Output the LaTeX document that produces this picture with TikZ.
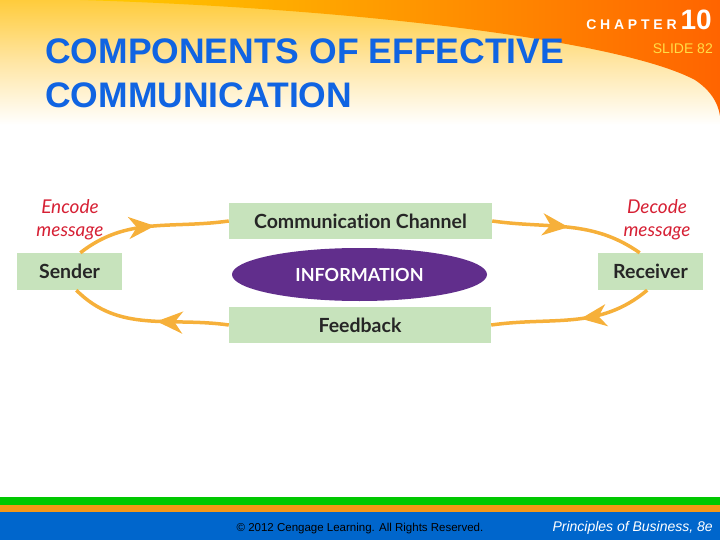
\documentclass[tikz,border=0pt]{standalone}
\usepackage{fontspec}
\setmainfont{Liberation Sans}
\newfontfamily\diagfont[Ligatures={NoCommon,NoRare}]{Lato}
\usetikzlibrary{arrows.meta,shapes.geometric,decorations.markings}

\definecolor{titleblue}{RGB}{16,100,226}
\definecolor{headtop}{RGB}{255,204,60}
\definecolor{headmid}{RGB}{255,230,165}
\definecolor{swooshyellow}{RGB}{255,204,0}
\definecolor{swooshorange}{RGB}{255,100,0}
\definecolor{slideyellow}{RGB}{255,222,70}
\definecolor{boxgreen}{RGB}{199,227,188}
\definecolor{infopurple}{RGB}{97,46,140}
\definecolor{flowgold}{RGB}{246,176,58}
\definecolor{codered}{RGB}{214,32,52}
\definecolor{footgreen}{RGB}{0,200,0}
\definecolor{footorange}{RGB}{246,152,22}
\definecolor{footblue}{RGB}{0,102,204}

\tikzset{
  msgbox/.style={fill=boxgreen, minimum height=36pt, inner sep=0pt,
    text=black!85, font=\diagfont\bfseries\fontsize{19.5}{19.5}\selectfont},
  infoshape/.style={ellipse, fill=infopurple, minimum width=255pt, minimum height=53pt,
    inner sep=0pt, text=white, font=\diagfont\bfseries\fontsize{18}{18}\selectfont},
  codelabel/.style={text=codered, align=center, inner sep=0pt,
    font=\diagfont\itshape\fontsize{19}{23}\selectfont},
  flowarrow/.style={draw=flowgold, line width=3.5pt, postaction={decorate},
    decoration={markings, mark=at position #1 with {\arrow[flowgold]{Stealth[length=26pt,width=22pt,inset=8pt]}}}},
  flowarrow/.default=0.5
}

\begin{document}
\begin{tikzpicture}[x=1pt, y=-1pt]
    \useasboundingbox (0,0) rectangle (720,540);

    % Kopfbereich mit Farbbogen
    \shade[top color=headtop, bottom color=white, middle color=headmid] (0,0) rectangle (720,125);
    \shade[left color=swooshyellow, right color=swooshorange]
        (80,0) .. controls (350,8) and (620,40) .. (695,80)
        .. controls (710,90) and (718,102) .. (720,116) -- (720,0) -- cycle;

    % Titel
    \node[anchor=base west, inner sep=0pt, text=titleblue, font=\bfseries\fontsize{35.5}{44}\selectfont] (title1) at (45,64) {COMPONENTS OF EFFECTIVE};
    \node[anchor=base west, inner sep=0pt, text=titleblue, font=\bfseries\fontsize{35.5}{44}\selectfont] (title2) at (45,108) {COMMUNICATION};
    \node[anchor=base east, inner sep=0pt, text=white, font=\bfseries] (chapter) at (712,30)
        {{\fontsize{14}{14}\selectfont\addfontfeature{LetterSpace=27}CHAPTER}\hspace{4pt}{\fontsize{28}{28}\selectfont 10}};
    \node[anchor=base east, inner sep=0pt, text=slideyellow, font=\fontsize{14}{14}\selectfont] (slide) at (713,54) {SLIDE 82};

    % Kommunikationsmodell
    \node[msgbox, minimum width=263pt] (channel) at (360.5,221) {Communication Channel};
    \node[infoshape] (info) at (359.5,274.5) {INFORMATION};
    \node[msgbox, minimum width=262pt] (feedback) at (360,325) {Feedback};
    \node[msgbox, minimum width=105pt, minimum height=37pt] (sender) at (69.5,271.5) {Sender};
    \node[msgbox, minimum width=105pt, minimum height=37pt] (receiver) at (650.5,271.5) {Receiver};
    \node[codelabel] (encode) at (70,220) {Encode\\message};
    \node[codelabel] (decode) at (657,220) {Decode\\message};

    % Kreislauf der Pfeile
    \draw[flowarrow=0.52] (sender.60) to[out=38, in=188] (channel.west);
    \draw[flowarrow=0.5] (channel.east) to[out=-8, in=145] (receiver.120);
    \draw[flowarrow=0.45] (receiver.-100) to[out=-140, in=8] (feedback.east);
    \draw[flowarrow=0.45] (feedback.west) to[out=172, in=-45] (sender.-70);

    % Fusszeile
    \fill[footgreen] (0,497) rectangle (720,505);
    \fill[footorange] (0,505) rectangle (720,512);
    \fill[footblue] (0,512) rectangle (720,540);
    \node[inner sep=0pt, anchor=base, font=\fontsize{11.5}{12}\selectfont] (copyright) at (360,531) {© 2012 Cengage Learning. All Rights Reserved.};
    \node[inner sep=0pt, anchor=base east, text=white, font=\itshape\fontsize{14}{14}\selectfont] (book) at (713,531) {Principles of Business, 8e};
\end{tikzpicture}
\end{document}
